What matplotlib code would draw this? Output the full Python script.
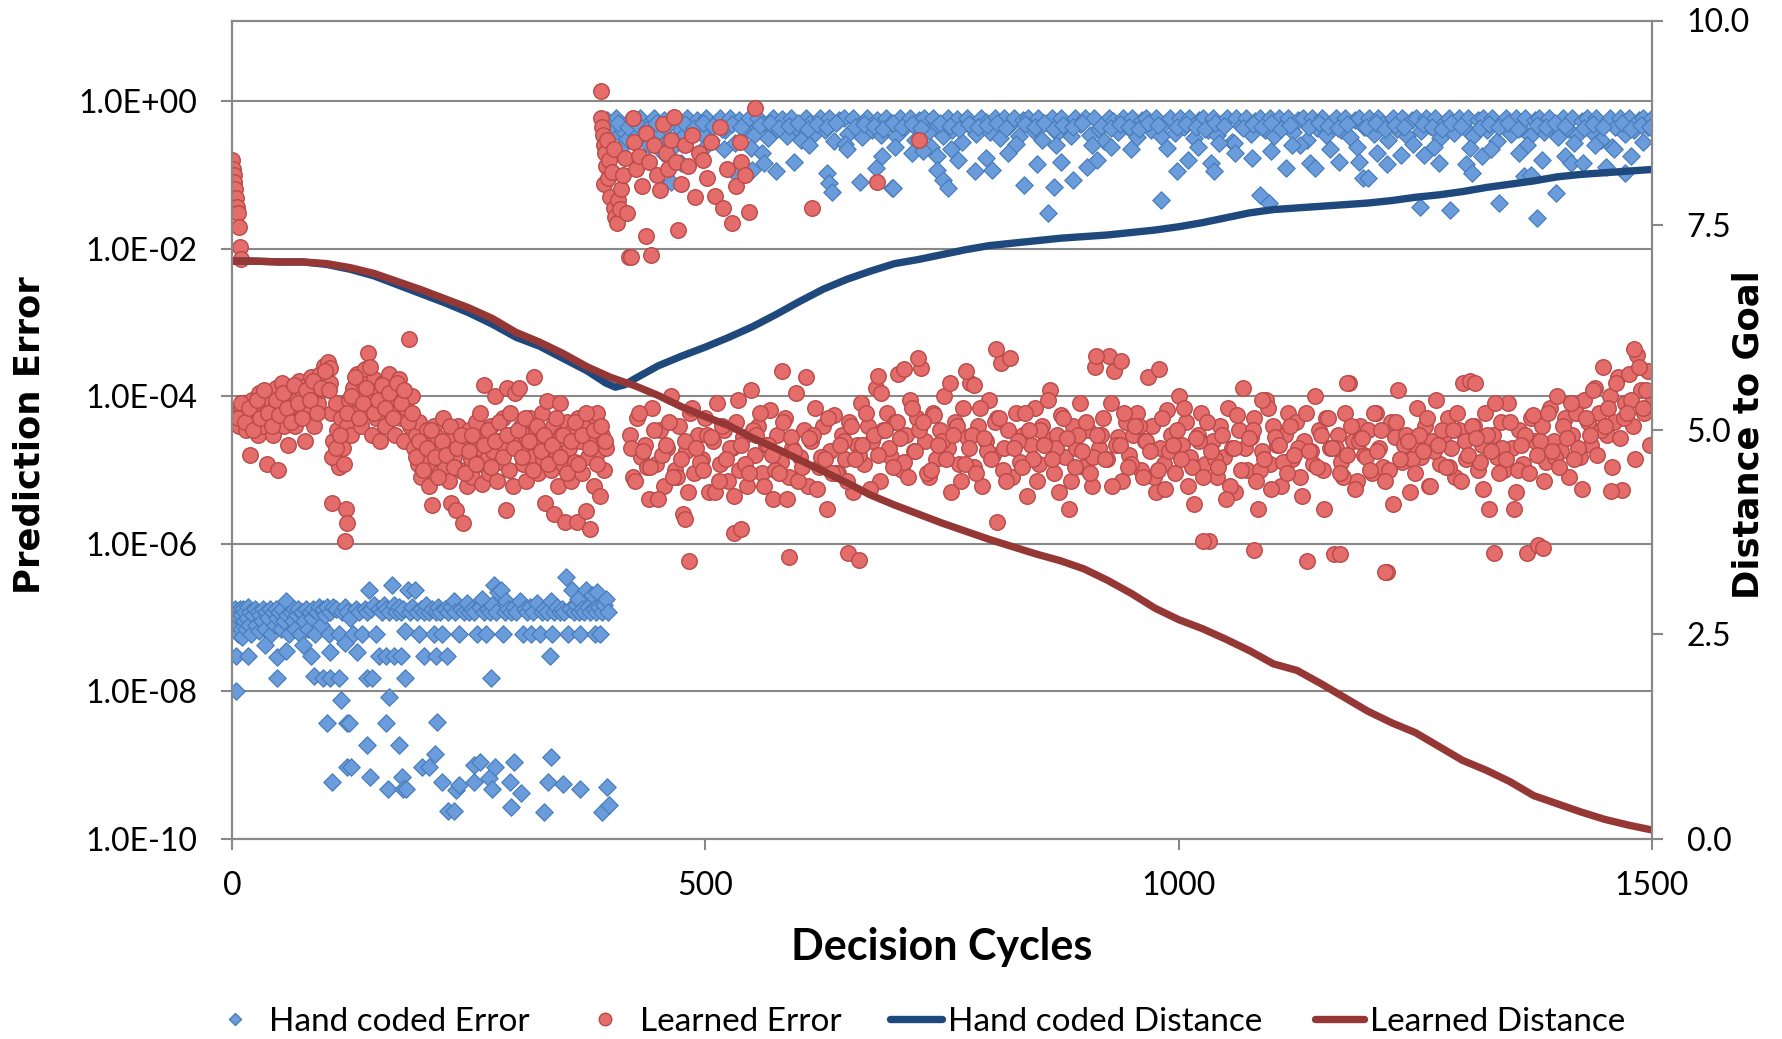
import numpy as np
import matplotlib
matplotlib.use('Agg')
import matplotlib.pyplot as plt
from matplotlib.lines import Line2D
from matplotlib.ticker import NullLocator

# ---------------------------------------------------------------------------
# Data (decision cycle, value)
# ---------------------------------------------------------------------------

# Hand coded prediction error, cycles 0-400 (dense band around 1e-7)
hand_err_early = [
    (0, 9e-8), (1, 1.1e-7), (2, 7e-8), (3, 1.3e-7), (4, 8e-8), (5, 1.2e-7), (6, 6e-8), (7, 1.0e-7),
    (8, 1.3e-7), (9, 7e-8), (10, 1.1e-7), (11, 5.5e-8), (12, 1.3e-7), (13, 9e-8), (14, 1.2e-7),
    (15, 7e-8), (16, 1.0e-7), (17, 1.4e-7), (18, 8e-8), (19, 1.2e-7), (20, 6e-8), (22, 1.1e-7),
    (24, 1.3e-7), (25, 8e-8), (27, 1.2e-7), (28, 6.5e-8), (30, 1.1e-7), (32, 9e-8), (33, 1.3e-7),
    (35, 7e-8), (36, 1.2e-7), (38, 1.0e-7), (40, 1.3e-7), (41, 6e-8), (43, 1.2e-7), (45, 8e-8),
    (46, 1.3e-7), (48, 1.0e-7), (50, 1.2e-7), (52, 7e-8), (53, 1.3e-7), (55, 9e-8), (57, 1.7e-7),
    (58, 1.1e-7), (60, 6e-8), (62, 1.2e-7), (64, 9e-8), (65, 1.3e-7), (67, 7e-8), (69, 1.1e-7),
    (70, 1.3e-7), (72, 6e-8), (74, 1.2e-7), (76, 9e-8), (78, 1.3e-7), (80, 7e-8), (82, 1.2e-7),
    (84, 1.0e-7), (86, 1.3e-7), (88, 6e-8), (90, 1.2e-7), (92, 1.4e-7), (94, 8e-8), (96, 1.3e-7),
    (98, 1.1e-7), (100, 1.4e-7), (102, 6e-8), (104, 1.2e-7), (107, 1.4e-7), (110, 1.3e-7),
    (113, 6e-8), (116, 1.2e-7), (119, 1.4e-7), (122, 1.2e-7), (125, 1.0e-7), (128, 6e-8),
    (131, 1.3e-7), (134, 1.2e-7), (137, 6e-8), (140, 1.3e-7), (143, 1.2e-7), (145, 2.4e-7),
    (147, 1.3e-7), (150, 1.5e-7), (152, 6e-8), (155, 1.3e-7), (158, 1.2e-7), (161, 1.5e-7),
    (163, 1.3e-7), (166, 1.2e-7), (169, 2.8e-7), (171, 1.5e-7), (173, 1.2e-7), (176, 1.4e-7),
    (178, 1.2e-7), (181, 1.3e-7), (183, 6.5e-8), (186, 2.4e-7), (188, 1.2e-7), (190, 1.4e-7),
    (193, 2.4e-7), (195, 1.2e-7), (198, 6e-8), (200, 1.3e-7), (203, 1.2e-7), (205, 1.5e-7),
    (208, 1.2e-7), (211, 1.3e-7), (213, 6e-8), (215, 1.2e-7), (218, 1.4e-7), (220, 1.2e-7),
    (222, 6e-8), (225, 1.3e-7), (228, 1.2e-7), (231, 1.4e-7), (234, 1.7e-7), (236, 1.2e-7),
    (240, 6e-8), (242, 1.3e-7), (245, 1.2e-7), (248, 1.6e-7), (250, 1.2e-7), (253, 1.3e-7),
    (256, 1.2e-7), (259, 6e-8), (262, 1.4e-7), (264, 1.8e-7), (266, 1.2e-7), (268, 6e-8),
    (270, 1.3e-7), (273, 1.2e-7), (275, 1.5e-7), (277, 2.8e-7), (279, 1.2e-7), (281, 2.2e-7),
    (284, 2.4e-7), (286, 6e-8), (288, 1.2e-7), (289, 1.7e-7), (292, 1.3e-7), (295, 1.2e-7),
    (298, 1.4e-7), (300, 1.2e-7), (304, 1.7e-7), (307, 6e-8), (309, 1.3e-7), (312, 1.2e-7),
    (315, 1.4e-7), (316, 6e-8), (318, 1.2e-7), (322, 1.6e-7), (325, 6e-8), (327, 1.2e-7),
    (330, 1.3e-7), (333, 1.2e-7), (337, 1.7e-7), (338, 6e-8), (340, 1.2e-7), (343, 1.4e-7),
    (346, 1.2e-7), (349, 1.3e-7), (351, 1.2e-7), (353, 3.5e-7), (355, 6e-8), (357, 1.3e-7),
    (359, 2.4e-7), (361, 1.2e-7), (363, 1.5e-7), (365, 1.8e-7), (367, 1.2e-7), (368, 6e-8),
    (370, 1.3e-7), (372, 1.2e-7), (374, 2.4e-7), (376, 1.4e-7), (378, 1.2e-7), (380, 2.0e-7),
    (382, 1.3e-7), (383, 6e-8), (384, 1.2e-7), (386, 2.2e-7), (388, 1.4e-7), (389, 6e-8),
    (391, 1.2e-7), (393, 1.5e-7), (395, 1.8e-7), (397, 1.2e-7),
]

# Hand coded prediction error, scattered low values in the first 400 cycles
hand_err_low = [
    (4, 1e-8), (4, 3e-8), (17, 3e-8), (35, 4.2e-8), (48, 1.5e-8), (48, 2.9e-8), (57, 3.5e-8),
    (75, 4.2e-8), (83, 3e-8), (87, 1.6e-8), (96, 1.5e-8), (100, 3.7e-9), (104, 1.5e-8),
    (104, 3.4e-8), (106, 5.9e-10), (113, 1.5e-8), (115, 7.6e-9), (119, 4.5e-8), (122, 3.7e-9),
    (124, 3.7e-9), (121, 9.5e-10), (126, 9.5e-10), (132, 3.4e-8), (143, 1.9e-9), (143, 1.5e-8),
    (148, 1.5e-8), (146, 7e-10), (155, 3e-8), (163, 3e-8), (163, 3.7e-9), (165, 4.8e-10),
    (166, 8.3e-9), (171, 3e-8), (176, 1.9e-9), (178, 3e-8), (180, 6.9e-10), (181, 4.7e-10),
    (184, 4.7e-10), (183, 1.5e-8), (201, 9.5e-10), (208, 9.5e-10), (203, 3e-8), (215, 3e-8),
    (227, 3e-8), (214, 1.4e-9), (217, 3.8e-9), (222, 5.9e-10), (228, 2.4e-10), (234, 2.4e-10),
    (237, 4.6e-10), (240, 5.4e-10), (256, 5.9e-10), (256, 1.0e-9), (262, 1.1e-9), (272, 6.8e-10),
    (274, 1.5e-8), (275, 4.7e-10), (278, 9.5e-10), (294, 5.9e-10), (295, 2.7e-10), (298, 1.1e-9),
    (305, 4.2e-10), (330, 2.3e-10), (334, 5.9e-10), (336, 3e-8), (337, 1.3e-9), (350, 5.6e-10),
    (368, 4.7e-10), (391, 2.3e-10), (396, 5.1e-10), (398, 2.9e-10),
]

# Hand coded prediction error after cycle 395 (band just under 1.0)
hand_err_late = [
    (396, 0.55), (401, 0.35), (406, 0.58), (411, 0.42), (416, 0.3), (421, 0.57), (426, 0.4),
    (431, 0.58), (436, 0.33), (441, 0.5), (446, 0.58), (451, 0.38), (456, 0.56), (461, 0.3),
    (466, 0.58), (471, 0.45), (476, 0.34), (481, 0.58), (486, 0.4), (491, 0.55),
    (496, 0.36), (501, 0.58), (506, 0.3), (511, 0.52), (516, 0.58), (521, 0.4), (526, 0.58),
    (531, 0.27), (536, 0.55), (541, 0.44), (546, 0.58), (551, 0.35), (556, 0.58), (561, 0.48),
    (566, 0.31), (571, 0.58), (576, 0.42), (581, 0.57), (586, 0.34), (591, 0.58),
    (596, 0.45), (601, 0.3), (606, 0.58), (611, 0.5), (616, 0.37), (621, 0.58), (626, 0.41),
    (631, 0.58), (636, 0.29), (641, 0.55), (646, 0.58), (651, 0.36), (656, 0.58), (661, 0.46),
    (666, 0.32), (671, 0.58), (676, 0.4), (681, 0.56), (686, 0.35), (691, 0.58),
    (696, 0.5), (701, 0.33), (706, 0.58), (711, 0.44), (716, 0.58), (721, 0.3), (726, 0.55),
    (731, 0.58), (736, 0.39), (741, 0.58), (746, 0.47), (751, 0.33), (756, 0.58), (761, 0.4),
    (766, 0.57), (771, 0.28), (776, 0.58), (781, 0.45), (786, 0.36), (791, 0.58),
    (796, 0.52), (801, 0.38), (806, 0.58), (811, 0.31), (816, 0.58), (821, 0.46), (826, 0.58),
    (831, 0.34), (836, 0.55), (841, 0.58), (846, 0.41), (851, 0.58), (856, 0.3), (861, 0.5),
    (866, 0.58), (871, 0.37), (876, 0.58), (881, 0.43), (886, 0.33), (891, 0.58),
    (896, 0.48), (901, 0.58), (906, 0.35), (911, 0.58), (916, 0.42), (921, 0.29), (926, 0.58),
    (931, 0.53), (936, 0.38), (941, 0.58), (946, 0.45), (951, 0.58), (956, 0.32), (961, 0.56),
    (966, 0.58), (971, 0.4), (976, 0.58), (981, 0.34), (986, 0.5), (991, 0.58),
    (996, 0.37), (1001, 0.58), (1006, 0.44), (1011, 0.58), (1016, 0.31), (1021, 0.55),
    (1026, 0.58), (1031, 0.4), (1036, 0.58), (1041, 0.35), (1046, 0.5), (1051, 0.58),
    (1056, 0.28), (1061, 0.58), (1066, 0.46), (1071, 0.58), (1076, 0.36), (1081, 0.53),
    (1086, 0.58), (1091, 0.41),
    (1096, 0.58), (1101, 0.33), (1106, 0.58), (1111, 0.47), (1116, 0.58), (1121, 0.38),
    (1126, 0.55), (1131, 0.58), (1136, 0.3), (1141, 0.58), (1146, 0.43), (1151, 0.58),
    (1156, 0.35), (1161, 0.51), (1166, 0.58), (1171, 0.4), (1176, 0.58), (1181, 0.32),
    (1186, 0.56), (1191, 0.58),
    (1196, 0.44), (1201, 0.58), (1206, 0.36), (1211, 0.58), (1216, 0.49), (1221, 0.3),
    (1226, 0.58), (1231, 0.42), (1236, 0.58), (1241, 0.34), (1246, 0.55), (1251, 0.58),
    (1256, 0.39), (1261, 0.58), (1266, 0.46), (1271, 0.58), (1276, 0.31), (1281, 0.52),
    (1286, 0.58), (1291, 0.37),
    (1296, 0.58), (1301, 0.45), (1306, 0.58), (1311, 0.33), (1316, 0.56), (1321, 0.58),
    (1326, 0.4), (1331, 0.58), (1336, 0.29), (1341, 0.5), (1346, 0.58), (1351, 0.36),
    (1356, 0.58), (1361, 0.43), (1366, 0.58), (1371, 0.34), (1376, 0.55), (1381, 0.58),
    (1386, 0.38), (1391, 0.58),
    (1396, 0.47), (1401, 0.32), (1406, 0.58), (1411, 0.42), (1416, 0.58), (1421, 0.35),
    (1426, 0.54), (1431, 0.58), (1436, 0.39), (1441, 0.58), (1446, 0.3), (1451, 0.5),
    (1456, 0.58), (1461, 0.44), (1466, 0.58), (1471, 0.36), (1476, 0.58), (1481, 0.41),
    (1486, 0.56), (1491, 0.58), (1496, 0.45), (1500, 0.58),
]

# Hand coded prediction error after cycle 395, middle of the band
hand_err_late_mid = [
    (398, 0.45), (408, 0.5), (418, 0.44), (428, 0.48), (438, 0.42), (448, 0.5), (458, 0.45),
    (468, 0.25), (478, 0.48), (488, 0.43), (498, 0.5), (508, 0.46), (518, 0.42), (528, 0.49),
    (538, 0.44), (548, 0.23), (558, 0.47), (568, 0.5), (578, 0.43), (588, 0.46),
    (598, 0.5), (608, 0.42), (618, 0.48), (628, 0.45), (638, 0.5), (648, 0.26), (658, 0.44),
    (668, 0.49), (678, 0.46), (688, 0.42), (698, 0.5), (708, 0.45), (718, 0.48), (728, 0.43),
    (738, 0.24), (748, 0.5), (758, 0.46), (768, 0.42), (778, 0.49), (788, 0.44),
    (798, 0.47), (808, 0.5), (818, 0.43), (828, 0.26), (838, 0.48), (848, 0.45), (858, 0.5),
    (868, 0.42), (878, 0.47), (888, 0.44), (898, 0.5), (908, 0.25), (918, 0.46), (928, 0.43),
    (938, 0.49), (948, 0.45), (958, 0.42), (968, 0.5), (978, 0.47), (988, 0.23),
    (998, 0.44), (1008, 0.49), (1018, 0.45), (1028, 0.42), (1038, 0.5), (1048, 0.46),
    (1058, 0.27), (1068, 0.43), (1078, 0.48), (1088, 0.45), (1098, 0.5), (1108, 0.42),
    (1118, 0.47), (1128, 0.25), (1138, 0.44), (1148, 0.5), (1158, 0.46), (1168, 0.43),
    (1178, 0.48), (1188, 0.24),
    (1198, 0.45), (1208, 0.5), (1218, 0.42), (1228, 0.47), (1238, 0.44), (1248, 0.26),
    (1258, 0.49), (1268, 0.45), (1278, 0.42), (1288, 0.5), (1298, 0.46), (1308, 0.23),
    (1318, 0.43), (1328, 0.48), (1338, 0.45), (1348, 0.5), (1358, 0.42), (1368, 0.25),
    (1378, 0.47), (1388, 0.44),
    (1398, 0.5), (1408, 0.46), (1418, 0.27), (1428, 0.43), (1438, 0.48), (1448, 0.45),
    (1458, 0.24), (1468, 0.5), (1478, 0.42), (1488, 0.47), (1498, 0.44),
]

# Hand coded prediction error after cycle 395, points below the band
hand_err_late_low = [
    (410, 0.22), (440, 0.25), (455, 0.2), (464, 0.081), (474, 0.145), (500, 0.24), (520, 0.22),
    (531, 0.105), (549, 0.117), (560, 0.2), (562, 0.145), (575, 0.112), (594, 0.151), (610, 0.25),
    (628, 0.105), (631, 0.078), (634, 0.059), (650, 0.22), (663, 0.079), (680, 0.123),
    (687, 0.178), (697, 0.066), (698, 0.066), (700, 0.24), (718, 0.2), (730, 0.21), (745, 0.178),
    (745, 0.117), (751, 0.085), (756, 0.066), (760, 0.22), (767, 0.158), (785, 0.112),
    (797, 0.17), (803, 0.117), (820, 0.2), (837, 0.072), (850, 0.138), (862, 0.03), (868, 0.069),
    (870, 0.25), (876, 0.151), (888, 0.085), (903, 0.129), (914, 0.158), (928, 0.24), (950, 0.22),
    (981, 0.046), (998, 0.112), (1010, 0.158), (1020, 0.24), (1034, 0.145), (1037, 0.112),
    (1043, 0.27), (1060, 0.2), (1077, 0.17), (1086, 0.054), (1095, 0.042), (1098, 0.21),
    (1113, 0.123), (1120, 0.25), (1139, 0.145), (1144, 0.123), (1160, 0.22), (1169, 0.151),
    (1191, 0.151), (1195, 0.089), (1200, 0.089), (1210, 0.2), (1220, 0.138), (1235, 0.186),
    (1255, 0.037), (1259, 0.186), (1270, 0.24), (1275, 0.145), (1287, 0.033), (1304, 0.138),
    (1310, 0.105), (1320, 0.178), (1330, 0.22), (1338, 0.042), (1360, 0.2), (1365, 0.095),
    (1372, 0.1), (1378, 0.026), (1384, 0.158), (1399, 0.056), (1408, 0.178), (1414, 0.145),
    (1427, 0.145), (1440, 0.25), (1451, 0.129), (1460, 0.22), (1472, 0.105), (1478, 0.178),
    (1490, 0.28),
]

# Learned prediction error: first cycles (falling streak)
learned_err_start = [
    (0, 0.16), (1, 0.12), (2, 0.1), (2, 0.08), (3, 0.065), (4, 0.048), (5, 0.037), (6, 0.03),
    (7, 0.0195), (8, 0.0104), (9, 0.0073),
]

# Learned prediction error, cycles 5-395
learned_err_early = [
    (5, 6e-5), (7, 4e-5), (9, 7e-5), (11, 5e-5), (13, 8e-5), (15, 3.5e-5), (17, 6e-5),
    (19, 1.6e-5), (21, 9e-5), (23, 5e-5), (25, 7e-5), (27, 3e-5), (29, 1.1e-4), (31, 6e-5),
    (33, 4e-5), (35, 8e-5), (37, 1.2e-5), (39, 5e-5), (41, 9e-5), (43, 3e-5), (45, 7e-5),
    (47, 1.3e-4), (49, 1.0e-5), (51, 6e-5), (53, 1.5e-4), (55, 4e-5), (57, 8e-5), (59, 2.2e-5),
    (61, 1.0e-4), (63, 6e-5), (65, 1.3e-4), (67, 4e-5), (69, 9e-5), (71, 1.6e-4), (73, 5e-5),
    (75, 1.1e-4), (77, 2.5e-5), (79, 1.4e-4), (81, 7e-5), (83, 1.8e-4), (85, 1.0e-4), (87, 4e-5),
    (89, 1.5e-4), (91, 8e-5), (93, 2.0e-4), (95, 1.2e-4),
    (97, 2.6e-4), (99, 1.8e-4), (101, 2.9e-4), (103, 2.4e-4), (104, 1.5e-4), (105, 6e-5),
    (106, 3.6e-6), (107, 2.5e-5), (109, 1.4e-5), (110, 8e-5), (111, 3.5e-5), (113, 1.1e-5),
    (115, 5e-5), (117, 2e-5), (119, 1.1e-6), (120, 3e-6), (121, 1.9e-6), (122, 4e-5), (124, 9e-5),
    (126, 3e-5), (128, 1.3e-4), (130, 6e-5), (132, 2e-4), (134, 9e-5), (136, 4e-5), (138, 1.5e-4),
    (140, 2.3e-4), (142, 7e-5), (144, 3.9e-4), (146, 1.1e-4), (148, 3e-5), (150, 1.7e-4),
    (152, 5e-5), (154, 1.2e-4), (156, 2.5e-5), (158, 8e-5), (160, 1.5e-4), (162, 4e-5),
    (164, 1.0e-4), (166, 2e-4), (168, 6e-5), (170, 1.3e-4), (172, 3e-5), (174, 9e-5),
    (176, 1.7e-4), (178, 5e-5), (180, 1.2e-4), (182, 2.5e-5), (184, 7e-5), (187, 5.9e-4),
    (188, 4e-5), (190, 1.0e-4),
    (192, 2e-5), (194, 3e-5), (196, 1.2e-5), (198, 4.5e-5), (200, 8e-6), (202, 2.5e-5),
    (204, 1.5e-5), (206, 3.5e-5), (208, 6e-6), (210, 2e-5), (211, 3.4e-6), (213, 4e-5),
    (215, 1.2e-5), (217, 2.8e-5), (219, 9e-6), (221, 1.8e-5), (223, 5e-5), (225, 1.1e-5),
    (227, 2.5e-5), (229, 7e-6), (231, 3.6e-6), (233, 3e-5), (235, 1.5e-5), (237, 2.9e-6),
    (239, 4e-5), (241, 1e-5), (244, 1.9e-6), (246, 2.2e-5), (248, 6e-6), (250, 3.5e-5),
    (252, 1.4e-5), (254, 8e-6), (256, 2.6e-5), (258, 4.5e-5), (260, 1.2e-5), (262, 2e-5),
    (264, 6.5e-6), (266, 1.4e-4), (268, 3e-5), (270, 1.5e-5), (272, 9e-6), (274, 4e-5),
    (276, 1.8e-5), (278, 1.0e-4), (280, 7e-6), (282, 2.5e-5), (284, 1.3e-5), (286, 5e-5),
    (288, 2e-5), (289, 2.9e-6), (291, 1.3e-4), (293, 1e-5), (295, 3e-5), (297, 6e-6),
    (299, 1.1e-4),
    (301, 2.2e-5), (303, 1.3e-4), (305, 4e-5), (307, 1.2e-5), (309, 3e-5), (311, 7e-6),
    (313, 2e-5), (315, 5e-5), (317, 1.5e-5), (319, 1.8e-4), (321, 3.5e-5), (323, 9e-6),
    (325, 2.5e-5), (327, 6e-5), (329, 1.4e-5), (331, 3.6e-6), (333, 8.5e-5), (335, 2.2e-5),
    (337, 1e-5), (339, 4e-5), (340, 2.5e-6), (342, 1.8e-5), (344, 6e-6), (346, 8e-5), (348, 3e-5),
    (350, 1.2e-5), (352, 2e-6), (354, 4.5e-5), (356, 2e-5), (358, 7e-6), (360, 3.5e-5),
    (362, 1.3e-5), (364, 2e-6), (366, 5e-5), (368, 2.5e-5), (370, 9e-6), (372, 4e-5),
    (374, 2.8e-6), (376, 1.5e-5), (378, 1.6e-6), (380, 3e-5), (382, 6e-6), (384, 5e-5),
    (386, 5.9e-5), (388, 1.8e-5), (389, 4.5e-6), (391, 3e-5), (393, 1e-5), (395, 2e-5),
]

# Learned prediction error, cycles 6-394 (second layer of the early cloud)
learned_err_early_b = [
    (6, 5e-5), (10, 8e-5), (14, 4.5e-5), (18, 7e-5), (22, 3.5e-5), (26, 9e-5), (30, 5e-5),
    (34, 1.2e-4), (38, 6e-5), (42, 4e-5), (46, 9e-5), (50, 5.5e-5), (54, 1.1e-4), (58, 7e-5),
    (62, 4.5e-5), (66, 1.4e-4), (70, 8e-5), (74, 5e-5), (78, 1.2e-4), (82, 9e-5), (86, 1.6e-4),
    (90, 6e-5), (94, 1.3e-4), (98, 2.2e-4),
    (102, 1.2e-4), (106, 1.5e-5), (110, 2e-5), (114, 3e-5), (118, 1.2e-5), (122, 6e-5),
    (126, 1e-4), (130, 1.8e-4), (134, 5e-5), (138, 8e-5), (142, 1.3e-4), (146, 2.5e-4),
    (150, 6e-5), (154, 9e-5), (158, 1.4e-4), (162, 7e-5), (166, 1.1e-4), (170, 5e-5),
    (174, 1.5e-4), (178, 8e-5), (182, 1.2e-4), (186, 4.5e-5), (190, 6e-5),
    (194, 1.5e-5), (198, 2.5e-5), (202, 1e-5), (206, 2e-5), (210, 3.5e-5), (214, 1.5e-5),
    (218, 8e-6), (222, 2.5e-5), (226, 1.6e-5), (230, 4e-5), (234, 1.1e-5), (238, 2e-5),
    (242, 3e-5), (246, 9e-6), (250, 1.8e-5), (254, 3e-5), (258, 1.2e-5), (262, 6e-5),
    (266, 2.2e-5), (270, 3.5e-5), (274, 1.1e-5), (278, 2.5e-5), (282, 4.5e-5), (286, 1.5e-5),
    (290, 3e-5), (294, 6e-5), (298, 2e-5),
    (302, 3.5e-5), (306, 1.5e-5), (310, 5e-5), (314, 2.5e-5), (318, 1e-5), (322, 4e-5),
    (326, 1.8e-5), (330, 3e-5), (334, 1.2e-5), (338, 2.2e-5), (342, 5e-5), (346, 1.5e-5),
    (350, 3e-5), (354, 9e-6), (358, 2.5e-5), (362, 4.5e-5), (366, 1.2e-5), (370, 3e-5),
    (374, 6e-5), (378, 2e-5), (382, 3.5e-5), (386, 1.2e-5), (390, 4e-5), (394, 2.5e-5),
]

# Learned prediction error: large errors right after cycle 388
learned_err_spike = [
    (390, 1.35), (390, 0.59), (391, 0.45), (392, 0.35), (393, 0.25), (393, 0.074), (394, 0.2),
    (395, 0.13), (396, 0.3), (397, 0.09), (398, 0.16), (399, 0.05), (401, 0.11), (403, 0.035),
    (404, 0.22), (405, 0.027), (407, 0.022), (408, 0.045), (410, 0.034), (411, 0.065),
    (413, 0.1), (415, 0.17), (417, 0.03), (419, 0.0076), (421, 0.0076), (424, 0.59), (425, 0.28),
    (427, 0.12), (430, 0.18), (433, 0.07), (437, 0.37), (437, 0.015), (440, 0.15), (443, 0.0083),
    (446, 0.25), (449, 0.1), (452, 0.063), (455, 0.48), (458, 0.2), (461, 0.12), (464, 0.3),
    (467, 0.6), (469, 0.15), (471, 0.018), (474, 0.074), (478, 0.25), (482, 0.13), (486, 0.35),
    (489, 0.05), (493, 0.2), (498, 0.16), (502, 0.09), (506, 0.28), (510, 0.051), (516, 0.44),
    (519, 0.035), (523, 0.12), (528, 0.022), (532, 0.07), (537, 0.28), (538, 0.15), (542, 0.1),
    (546, 0.031), (552, 0.81), (613, 0.035), (681, 0.081), (726, 0.3),
]

# Learned prediction error, cycles 420-1500 (main cloud)
learned_err_late = [
    (420, 3e-5), (424, 8e-6), (428, 5e-5), (432, 1.5e-5), (436, 2.2e-5), (440, 4e-6), (444, 7e-5),
    (448, 1.2e-5), (452, 3.5e-5), (456, 6e-6), (460, 2e-5), (464, 1e-4), (468, 1e-5), (472, 4e-5),
    (476, 2.5e-6),
    (480, 1.8e-5), (484, 6e-5), (488, 9e-6), (492, 3e-5), (496, 1.4e-5), (500, 5e-5), (504, 5e-6),
    (508, 2.5e-5), (512, 8e-5), (516, 1.2e-5), (520, 3.5e-5), (524, 7e-6), (528, 2e-5),
    (532, 4.5e-5), (536, 1e-5),
    (540, 2.8e-5), (544, 6e-6), (548, 1.2e-4), (552, 1.6e-5), (556, 4e-5), (560, 9e-6),
    (564, 2.2e-5), (568, 6.5e-5), (572, 4e-6), (576, 3e-5), (580, 1.3e-5), (584, 5e-5),
    (588, 8e-6), (592, 2e-5), (596, 1.1e-4),
    (600, 1.5e-5), (604, 3.5e-5), (608, 6e-6), (612, 2.5e-5), (616, 7e-5), (620, 1.1e-5),
    (624, 4e-5), (628, 3e-6), (632, 1.8e-5), (636, 5.5e-5), (640, 9e-6), (644, 3e-5),
    (648, 1.4e-5), (652, 4.5e-5), (656, 5e-6),
    (660, 2.2e-5), (664, 8e-5), (668, 1.2e-5), (672, 4e-5), (676, 2.5e-5), (680, 1.3e-4),
    (684, 7e-6), (688, 3.5e-5), (692, 6e-5), (696, 1.5e-5), (700, 4.5e-5), (704, 2e-4),
    (708, 1e-5), (712, 3e-5), (716, 9e-5),
    (720, 1.8e-5), (724, 5e-5), (728, 2.4e-4), (732, 2.5e-5), (736, 8e-6), (740, 6e-5),
    (744, 1.4e-5), (748, 3.5e-5), (752, 1e-4), (756, 2e-5), (760, 5e-6), (764, 4.5e-5),
    (768, 1.2e-5), (772, 7e-5), (776, 2.8e-5),
    (780, 1.5e-4), (784, 1.1e-5), (788, 4e-5), (792, 6e-6), (796, 2.5e-5), (800, 9e-5),
    (804, 1.6e-5), (808, 5e-5), (812, 2.8e-4), (816, 2e-5), (820, 3.5e-5), (824, 8e-6),
    (828, 6e-5), (832, 1.3e-5), (836, 3e-5),
    (840, 4.5e-6), (844, 2.2e-5), (848, 7e-5), (852, 1.2e-5), (856, 4e-5), (860, 2.6e-5),
    (864, 1.2e-4), (868, 9e-6), (872, 3e-5), (876, 5.5e-5), (880, 1.5e-5), (884, 3e-6),
    (888, 4e-5), (892, 2e-5), (896, 8e-5),
    (900, 1.1e-5), (904, 3.5e-5), (908, 6e-6), (912, 2.5e-4), (916, 2e-5), (920, 5e-5),
    (924, 1.4e-5), (928, 8e-5), (932, 2.2e-4), (936, 2.8e-5), (940, 7e-6), (944, 4.5e-5),
    (948, 1.6e-5), (952, 3e-5), (956, 6e-5),
    (960, 1e-5), (964, 2.5e-5), (968, 1.8e-4), (972, 4e-5), (976, 5e-6), (980, 2e-5),
    (984, 1.2e-5), (988, 6.5e-5), (992, 3e-5), (996, 9e-6), (1000, 1e-4), (1004, 2.2e-5),
    (1008, 4.5e-5), (1012, 1.5e-5), (1016, 3.5e-6),
    (1020, 3e-5), (1024, 6e-5), (1028, 1.2e-5), (1032, 1.1e-6), (1036, 2.5e-5), (1040, 8e-6),
    (1044, 4e-5), (1048, 1.5e-5), (1052, 7e-5), (1056, 2e-5), (1060, 5e-6), (1064, 3.5e-5),
    (1068, 1.3e-4), (1072, 1e-5), (1076, 2.8e-5),
    (1080, 5e-5), (1084, 3e-6), (1088, 1.8e-5), (1092, 9e-5), (1096, 1.2e-5), (1100, 4e-5),
    (1104, 2.2e-5), (1108, 6e-6), (1112, 3e-5), (1116, 6e-5), (1120, 1.4e-5), (1124, 4.5e-5),
    (1128, 8e-6), (1132, 2.5e-5), (1136, 5.8e-7),
    (1140, 1.8e-5), (1144, 1e-4), (1148, 3.5e-5), (1152, 1e-5), (1156, 5e-5), (1160, 2e-5),
    (1164, 7.2e-7), (1168, 3e-5), (1172, 1.3e-5), (1176, 6e-5), (1180, 1.5e-4), (1184, 2.5e-5),
    (1188, 7e-6), (1192, 4e-5), (1196, 1.6e-5),
    (1200, 3.5e-5), (1204, 9e-6), (1208, 6e-5), (1212, 2e-5), (1216, 1.1e-5), (1220, 4.2e-7),
    (1224, 4.5e-5), (1228, 2.8e-5), (1232, 1.2e-4), (1236, 1.3e-5), (1240, 3e-5), (1244, 5e-6),
    (1248, 2.2e-5), (1252, 7e-5), (1256, 1.5e-5),
    (1260, 4e-5), (1264, 6e-6), (1268, 2.5e-5), (1272, 9e-5), (1276, 1.2e-5), (1280, 3e-5),
    (1284, 5e-5), (1288, 2e-5), (1292, 8e-6), (1296, 3.5e-5), (1300, 1.5e-4), (1304, 1.4e-5),
    (1308, 1.6e-4), (1312, 4e-5), (1316, 1e-5),
    (1320, 2.2e-5), (1324, 6e-5), (1328, 3e-6), (1332, 3e-5), (1336, 1.5e-5), (1340, 4.5e-5),
    (1344, 1e-5), (1348, 8e-5), (1352, 2e-5), (1356, 5e-6), (1360, 3.5e-5), (1364, 1.2e-5),
    (1368, 7.6e-7), (1372, 5e-5), (1376, 2.5e-5),
    (1380, 9.5e-7), (1384, 4e-5), (1388, 1.3e-5), (1392, 7e-5), (1396, 2.5e-5), (1400, 1e-4),
    (1404, 1.8e-5), (1408, 5e-5), (1412, 8e-6), (1416, 3e-5), (1420, 6e-5), (1424, 1.5e-5),
    (1428, 9e-5), (1432, 4.5e-5), (1436, 2.2e-5),
    (1440, 1.3e-4), (1444, 6e-5), (1448, 2.5e-4), (1452, 3e-5), (1456, 1e-4), (1460, 4.5e-5),
    (1464, 1.8e-4), (1468, 5.3e-6), (1472, 8e-5), (1476, 2e-4), (1480, 4e-5), (1484, 3.6e-4),
    (1488, 1.2e-4), (1492, 6e-5), (1496, 2.2e-4), (1500, 1e-4),
]

# Learned prediction error, cycles 422-1494 (second layer of the cloud)
learned_err_late_b = [
    (422, 2e-5), (430, 6e-5), (438, 1.1e-5), (446, 3.5e-5), (454, 1.6e-5), (462, 4.5e-5),
    (470, 8e-6), (478, 2.5e-5), (486, 7e-5), (494, 1.3e-5), (502, 3e-5), (510, 5e-6), (518, 4e-5),
    (526, 2e-5), (534, 9e-5),
    (542, 1.2e-5), (550, 3.5e-5), (558, 6e-5), (566, 2.2e-5), (574, 1e-5), (582, 4.5e-5),
    (590, 2.8e-5), (598, 7e-6), (606, 1.8e-4), (614, 3e-5), (622, 1.5e-5), (630, 5e-5),
    (638, 9e-6), (646, 2.5e-5), (654, 4e-5),
    (662, 1.6e-5), (670, 6e-5), (678, 3e-5), (686, 1.1e-4), (694, 2e-5), (702, 4.5e-5),
    (710, 1.3e-5), (718, 7e-5), (726, 3.5e-5), (734, 9e-6), (742, 5.5e-5), (750, 2.5e-5),
    (758, 1.5e-4), (766, 4e-5), (774, 1.2e-5),
    (782, 3e-5), (790, 7e-5), (798, 1.8e-5), (806, 4.5e-5), (814, 1e-5), (822, 3.3e-4),
    (830, 2.5e-5), (838, 6e-5), (846, 1.4e-5), (854, 3.5e-5), (862, 9e-5), (870, 2e-5),
    (878, 5e-5), (886, 7e-6), (894, 3e-5),
    (902, 4.5e-5), (910, 1.5e-5), (918, 3e-5), (926, 3.5e-4), (934, 2.2e-5), (942, 6e-5),
    (950, 1.2e-5), (958, 4e-5), (966, 2.5e-5), (974, 8e-6), (982, 5e-5), (990, 1.8e-5),
    (998, 3.5e-5), (1006, 7e-5), (1014, 1.1e-5),
    (1022, 2.5e-5), (1030, 4.5e-5), (1038, 1.4e-5), (1046, 3e-5), (1054, 6e-6), (1062, 5.5e-5),
    (1070, 2e-5), (1078, 3.5e-5), (1086, 1e-5), (1094, 7e-5), (1102, 2.8e-5), (1110, 1.3e-5),
    (1118, 4e-5), (1126, 2e-5), (1134, 6e-5),
    (1142, 1.2e-5), (1150, 3e-5), (1158, 5e-5), (1166, 2e-5), (1174, 8e-6), (1182, 4e-5),
    (1190, 2.5e-5), (1198, 1.5e-5), (1206, 6e-5), (1214, 3.5e-5), (1222, 1e-5), (1230, 4.5e-5),
    (1238, 2.2e-5), (1246, 1.4e-5), (1254, 3e-5),
    (1262, 5e-5), (1270, 1.8e-5), (1278, 3.5e-5), (1286, 1.1e-5), (1294, 6e-5), (1302, 2.5e-5),
    (1310, 4e-5), (1318, 1.3e-5), (1326, 3e-5), (1334, 8e-5), (1342, 2e-5), (1350, 4.5e-5),
    (1358, 1e-5), (1366, 3e-5), (1374, 5.5e-5),
    (1382, 2.5e-5), (1390, 6e-5), (1398, 1.5e-5), (1406, 4e-5), (1414, 8e-5), (1422, 2e-5),
    (1430, 5e-5), (1438, 1.2e-4), (1446, 3.5e-5), (1454, 7e-5), (1462, 1.5e-4), (1470, 5e-5),
    (1478, 9e-5), (1486, 2.5e-4), (1494, 1.2e-4),
]

# Learned prediction error, cycles 426-1498 (lower layer of the cloud)
learned_err_late_c = [
    (426, 7e-6), (434, 1.8e-5), (442, 1.1e-5), (450, 4e-6), (458, 2.2e-5), (466, 8e-6),
    (474, 1.4e-5), (482, 5e-6), (490, 2e-5), (498, 1e-5), (506, 2.8e-5), (514, 7e-6),
    (522, 1.4e-5), (530, 4.5e-6), (538, 2.2e-5),
    (546, 9e-6), (554, 3e-5), (562, 6e-6), (570, 1.6e-5), (578, 9e-6), (586, 4e-6),
    (594, 1.8e-5), (602, 1.1e-5), (610, 2.7e-5), (618, 5.5e-6), (626, 1.4e-5), (634, 9e-6),
    (642, 2.2e-5), (650, 7e-6), (658, 1.4e-5),
    (666, 2.2e-5), (674, 5.5e-6), (682, 1.6e-5), (690, 3.5e-5), (698, 1.1e-5), (706, 2.7e-5),
    (714, 8e-6), (722, 1.8e-5), (730, 4.5e-5), (738, 1e-5), (746, 2.2e-5), (754, 1.4e-5),
    (762, 3e-5), (770, 7e-6), (778, 2e-5),
    (786, 9e-6), (794, 2.7e-5), (802, 1.4e-5), (810, 5e-5), (818, 7e-6), (826, 2e-5),
    (834, 1.1e-5), (842, 3.5e-5), (850, 7e-6), (858, 2.2e-5), (866, 1.4e-5), (874, 5e-6),
    (882, 2.7e-5), (890, 1.1e-5), (898, 1.8e-5),
    (906, 9e-6), (914, 3e-5), (922, 1.4e-5), (930, 6e-6), (938, 2.2e-5), (946, 1.1e-5),
    (954, 4e-5), (962, 8e-6), (970, 1.8e-5), (978, 1e-5), (986, 5.5e-6), (994, 2.2e-5),
    (1002, 1.4e-5), (1010, 6e-6), (1018, 2.7e-5),
    (1026, 8e-6), (1034, 1.8e-5), (1042, 1.1e-5), (1050, 4e-6), (1058, 2e-5), (1066, 1e-5),
    (1074, 2.7e-5), (1082, 7e-6), (1090, 1.4e-5), (1098, 5.5e-6), (1106, 2.2e-5), (1114, 9e-6),
    (1122, 1.6e-5), (1130, 4.5e-6), (1138, 1.8e-5),
    (1146, 1.1e-5), (1154, 3e-6), (1162, 2e-5), (1170, 9e-6), (1178, 1.6e-5), (1186, 5.5e-6),
    (1194, 2.7e-5), (1202, 1e-5), (1210, 1.8e-5), (1218, 7e-6), (1226, 3.5e-6), (1234, 1.4e-5),
    (1242, 2.5e-5), (1250, 9e-6), (1258, 1.8e-5),
    (1266, 6e-6), (1274, 2.2e-5), (1282, 1.1e-5), (1290, 3.5e-5), (1298, 7e-6), (1306, 1.6e-5),
    (1314, 2.7e-5), (1322, 5.5e-6), (1330, 1.8e-5), (1338, 9e-6), (1346, 1.4e-5), (1354, 3e-6),
    (1362, 2.2e-5), (1370, 9e-6), (1378, 1.6e-5),
    (1386, 7e-6), (1394, 1.8e-5), (1402, 1.1e-5), (1410, 2.7e-5), (1418, 1.4e-5), (1426, 5.5e-6),
    (1434, 3e-5), (1442, 1.6e-5), (1450, 4e-5), (1458, 1.1e-5), (1466, 2.7e-5), (1474, 6e-5),
    (1482, 1.4e-5), (1490, 7e-5), (1498, 2.2e-5),
]

# Learned prediction error, isolated highs and lows after cycle 420
learned_err_outliers = [
    (479, 2.2e-6), (483, 5.9e-7), (530, 1.4e-6), (538, 1.6e-6), (581, 2.2e-4), (588, 6.6e-7),
    (651, 7.6e-7), (662, 6e-7), (682, 1.9e-4), (710, 2.3e-4), (725, 3.3e-4), (775, 2.2e-4),
    (784, 1.4e-4), (807, 4.3e-4), (808, 2e-6), (913, 3.5e-4), (939, 3e-4), (979, 2.3e-4),
    (1026, 1.1e-6), (1080, 8.3e-7), (1088, 9e-5), (1170, 7.2e-7), (1178, 1.5e-4), (1218, 4.2e-7),
    (1313, 1.5e-4), (1333, 7.6e-7), (1385, 8.7e-7), (1457, 5.2e-6), (1481, 4.3e-4),
]

# Distance to goal (secondary axis)
dist_cycles = [0, 25, 50, 75, 100, 125, 150, 175, 200, 225, 250, 275, 300, 325, 350, 375, 400,
               425, 450, 475, 500, 525, 550, 575, 600, 625, 650, 675, 700, 725, 750, 775, 800,
               825, 850, 875, 900, 925, 950, 975, 1000, 1025, 1050, 1075, 1100, 1125, 1150, 1175,
               1200, 1225, 1250, 1275, 1300, 1325, 1350, 1375, 1400, 1425, 1450, 1475, 1500]
learned_dist = [7.06, 7.06, 7.05, 7.05, 7.03, 6.98, 6.91, 6.81, 6.71, 6.60, 6.49, 6.36, 6.19,
                6.07, 5.93, 5.77, 5.64, 5.54, 5.42, 5.28, 5.16, 5.05, 4.90, 4.77, 4.63, 4.49,
                4.35, 4.20, 4.08, 3.97, 3.86, 3.76, 3.66, 3.57, 3.48, 3.40, 3.30, 3.16, 3.00,
                2.82, 2.68, 2.57, 2.44, 2.30, 2.14, 2.06, 1.90, 1.73, 1.56, 1.42, 1.30, 1.13,
                0.96, 0.84, 0.70, 0.53, 0.43, 0.33, 0.24, 0.17, 0.11]

hand_dist_cycles = [0, 25, 50, 75, 100, 125, 150, 175, 200, 225, 250, 275, 300, 325, 350, 375,
                    395, 405, 415, 425, 450, 475, 500, 525, 550, 575, 600, 625, 650, 675, 700,
                    725, 750, 775, 800, 825, 850, 875, 900, 925, 950, 975, 1000, 1025, 1050,
                    1075, 1100, 1125, 1150, 1175, 1200, 1225, 1250, 1275, 1300, 1325, 1350,
                    1375, 1400, 1425, 1450, 1475, 1500]
hand_dist = [7.06, 7.06, 7.05, 7.05, 7.02, 6.96, 6.88, 6.77, 6.66, 6.55, 6.43, 6.29, 6.13, 6.02,
             5.87, 5.72, 5.57, 5.52, 5.55, 5.62, 5.78, 5.90, 6.01, 6.13, 6.26, 6.41, 6.57, 6.72,
             6.84, 6.94, 7.03, 7.08, 7.14, 7.20, 7.25, 7.28, 7.31, 7.34, 7.36, 7.38, 7.41, 7.44,
             7.48, 7.53, 7.59, 7.65, 7.69, 7.71, 7.73, 7.75, 7.77, 7.80, 7.84, 7.87, 7.91, 7.96,
             8.00, 8.04, 8.09, 8.12, 8.14, 8.16, 8.18]

err_ticks = [1e-10, 1e-8, 1e-6, 1e-4, 1e-2, 1e0]
err_tick_labels = ['1.0E-10', '1.0E-08', '1.0E-06', '1.0E-04', '1.0E-02', '1.0E+00']
dist_ticks = [0, 2.5, 5, 7.5, 10]
dist_tick_labels = ['0.0', '2.5', '5.0', '7.5', '10.0']
cycle_ticks = [0, 500, 1000, 1500]

# ---------------------------------------------------------------------------
W, H = 1783, 1039
plt.rcParams['font.family'] = ['Lato', 'DejaVu Sans']

BLUE_FACE, BLUE_EDGE = '#6A9BDA', '#4A7EBB'
RED_FACE, RED_EDGE = '#E46C6B', '#B94A48'
BLUE_LINE, RED_LINE = '#1F497D', '#953735'
GRAY = '#888888'
TICK_FS = 23


def unzip(*parts):
    pts = [p for part in parts for p in part]
    return np.array([p[0] for p in pts], float), np.array([p[1] for p in pts], float)


fig = plt.figure(figsize=(W / 100, H / 100), dpi=100)
ax = fig.add_axes([232 / W, 1 - 839 / H, (1652 - 232) / W, (839 - 20.5) / H])

hx, hy = unzip(hand_err_early, hand_err_low, hand_err_late, hand_err_late_mid,
               hand_err_late_low)
lx, ly = unzip(learned_err_start, learned_err_early, learned_err_early_b, learned_err_spike,
               learned_err_late, learned_err_late_b, learned_err_late_c, learned_err_outliers)

ax.scatter(hx, hy, marker='D', s=78, facecolor=BLUE_FACE, edgecolor=BLUE_EDGE,
           linewidths=0.9, zorder=3)
ax.scatter(lx, ly, marker='o', s=125, facecolor=RED_FACE, edgecolor=RED_EDGE,
           linewidths=1.0, zorder=4)

ax.set_yscale('log')
ax.set_ylim(1e-10, 10 ** 1.09)
ax.set_xlim(0, 1500)
ax.set_yticks(err_ticks)
ax.set_yticklabels(err_tick_labels)
ax.yaxis.set_minor_locator(NullLocator())
ax.set_xticks(cycle_ticks)
ax.set_xticklabels([str(c) for c in cycle_ticks])
ax.yaxis.grid(True, color=GRAY, linewidth=1.5)
ax.set_axisbelow(True)
ax.tick_params(axis='y', direction='out', length=8, width=1.5, color=GRAY,
               labelsize=TICK_FS, pad=17)
ax.tick_params(axis='x', direction='out', length=8, width=1.5, color=GRAY,
               labelsize=TICK_FS, pad=15)

ax2 = ax.twinx()
ax2.plot(hand_dist_cycles, hand_dist, color=BLUE_LINE, lw=5.3, solid_capstyle='round',
         solid_joinstyle='round')
ax2.plot(dist_cycles, learned_dist, color=RED_LINE, lw=5.3, solid_capstyle='round',
         solid_joinstyle='round')
ax2.set_ylim(0, 10)
ax2.set_yticks(dist_ticks)
ax2.set_yticklabels(dist_tick_labels)
ax2.tick_params(axis='y', direction='out', length=8, width=1.5, color=GRAY,
                labelsize=TICK_FS, pad=17)

for a in (ax, ax2):
    for sp in a.spines.values():
        sp.set_color(GRAY)
        sp.set_linewidth(1.5)

fig.text(29.5 / W, 1 - 435 / H, 'Prediction Error', rotation=90, ha='center', va='center',
         fontsize=25.5, fontweight='bold', family='DejaVu Sans')
fig.text(1749 / W, 1 - 435 / H, 'Distance to Goal', rotation=90, ha='center', va='center',
         fontsize=25.5, fontweight='bold', family='DejaVu Sans')
fig.text(942 / W, 1 - 947 / H, 'Decision Cycles', ha='center', va='center',
         fontsize=31, fontweight='bold')

# legend: one entry per legend so each sits where it does in the reference
LEG_FS = 24
leg_y = 1 - 1022 / H
entries = [
    (Line2D([], [], ls='none', marker='D', ms=6, mfc=BLUE_FACE, mec=BLUE_EDGE),
     'Hand coded Error', 218, 1.0, 0.52),
    (Line2D([], [], ls='none', marker='o', ms=9, mfc=RED_FACE, mec=RED_EDGE),
     'Learned Error', 588, 1.0, 0.56),
    (Line2D([], [], color=BLUE_LINE, lw=5.3, solid_capstyle='round'),
     'Hand coded Distance', 890, 1.55, 0.2),
    (Line2D([], [], color=RED_LINE, lw=5.3, solid_capstyle='round'),
     'Learned Distance', 1315, 1.46, 0.2),
]
for handle, label, x0, hl, tp in entries:
    fig.legend([handle], [label], loc='center left', bbox_to_anchor=(x0 / W, leg_y),
               frameon=False, borderpad=0, borderaxespad=0, handlelength=hl,
               handletextpad=tp, fontsize=LEG_FS)

fig.savefig('out.png', dpi=100)
